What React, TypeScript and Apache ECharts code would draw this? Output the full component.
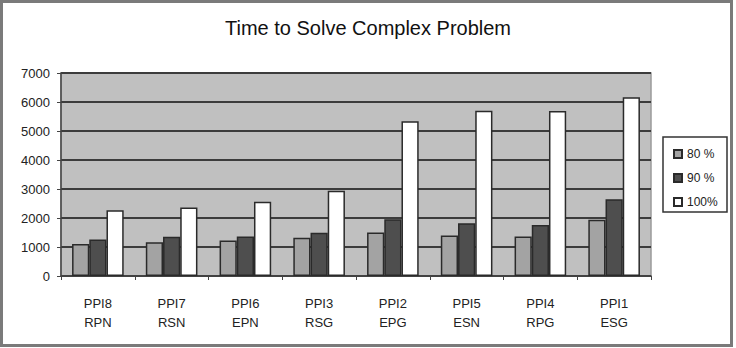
import React, { useEffect, useRef } from "react";
import * as echarts from "echarts";

const categories = ["PPI8\nRPN", "PPI7\nRSN", "PPI6\nEPN", "PPI3\nRSG", "PPI2\nEPG", "PPI5\nESN", "PPI4\nRPG", "PPI1\nESG"];
const seriesNames = ["80 %", "90 %", "100%"];
const values80 = [1100, 1160, 1220, 1320, 1500, 1400, 1360, 1940];
const values90 = [1260, 1350, 1360, 1490, 1960, 1820, 1760, 2650];
const values100 = [2270, 2360, 2560, 2940, 5340, 5700, 5690, 6160];
const yTicks = { min: 0, max: 7000, interval: 1000 };

const FONT = "'Liberation Sans', Arial, sans-serif";

export default function App() {
  const ref = useRef<HTMLDivElement>(null);
  useEffect(() => {
    if (!ref.current) return;
    const chart = echarts.init(ref.current, undefined, { renderer: "svg" });
    const barStyle = (color: string) => ({ color, borderColor: "#2a2a2a", borderWidth: 1.5 });
    chart.setOption({
      animation: false,
      backgroundColor: "#ffffff",
      title: {
        text: "Time to Solve Complex Problem",
        left: "center",
        top: 13,
        textStyle: { fontFamily: FONT, fontSize: 20, fontWeight: "normal", color: "#111" },
      },
      graphic: [
        {
          type: "rect",
          shape: { x: 1.5, y: 1.5, width: 730, height: 344 },
          style: { fill: "none", stroke: "#7a7a7a", lineWidth: 3 },
          silent: true,
        },
        {
          type: "rect",
          shape: { x: 663, y: 137, width: 64, height: 75 },
          style: { fill: "#ffffff", stroke: "#333", lineWidth: 1.5 },
          z: 0,
          silent: true,
        },
      ],
      legend: {
        orient: "vertical",
        left: 668,
        top: 143,
        itemWidth: 8,
        itemHeight: 8,
        itemGap: 12,
        icon: "rect",
        textStyle: { fontFamily: FONT, fontSize: 12, color: "#222" },
        data: seriesNames.map((n) => ({ name: n, textStyle: { color: "#222" } })),
        z: 5,
      },
      grid: {
        left: 61,
        right: 85,
        top: 73,
        bottom: 72,
        show: true,
        backgroundColor: "#c0c0c0",
        borderColor: "#9a9a9a",
        borderWidth: 1.5,
      },
      xAxis: {
        type: "category",
        data: categories,
        axisLine: { lineStyle: { color: "#444", width: 1.5 } },
        axisTick: { show: true, length: 4, lineStyle: { color: "#444" } },
        axisLabel: { fontFamily: FONT, fontSize: 13, color: "#222", margin: 18, lineHeight: 19 },
      },
      yAxis: {
        type: "value",
        min: yTicks.min,
        max: yTicks.max,
        interval: yTicks.interval,
        axisLine: { show: true, lineStyle: { color: "#444", width: 1.5 } },
        axisTick: { show: true, length: 4, lineStyle: { color: "#444" } },
        axisLabel: { fontFamily: FONT, fontSize: 13, color: "#222", margin: 11, formatter: (v: number) => String(v) },
        splitLine: { lineStyle: { color: "#3c3c3c", width: 2 } },
      },
      series: [
        { name: seriesNames[0], type: "bar", data: values80, barGap: "0%", barCategoryGap: "30%", itemStyle: barStyle("#a3a3a3") },
        { name: seriesNames[1], type: "bar", data: values90, barGap: "0%", barCategoryGap: "30%", itemStyle: barStyle("#4e4e4e") },
        { name: seriesNames[2], type: "bar", data: values100, barGap: "0%", barCategoryGap: "30%", itemStyle: barStyle("#ffffff") },
      ],
    });
    return () => chart.dispose();
  }, []);
  return <div ref={ref} style={{ position: "fixed", left: 0, top: 0, width: 736, height: 348 }} />;
}
